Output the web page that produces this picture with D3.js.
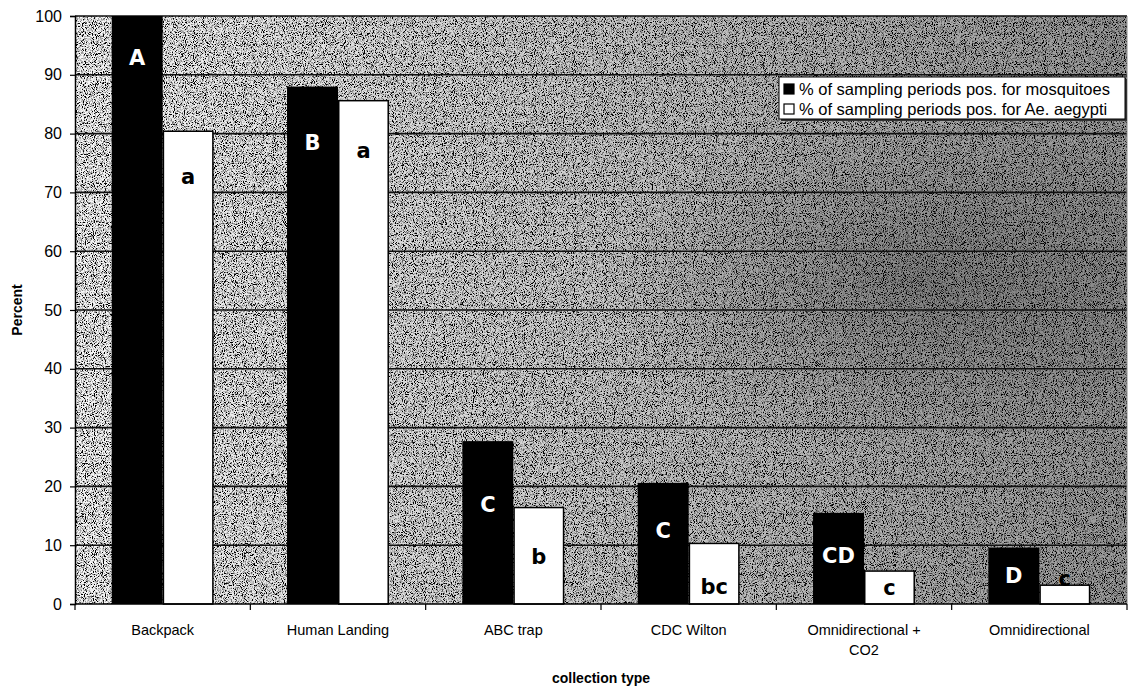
<!DOCTYPE html>
<html>
<head>
<meta charset="utf-8">
<script src="https://cdn.jsdelivr.net/npm/d3@7"></script>
<style>
  body { margin: 0; background: #fff; }
  svg { display: block; font-family: "Liberation Sans", Arial, sans-serif; }
</style>
</head>
<body>
<svg width="1136" height="688"></svg>
<script>
// chart data
const categories = ["Backpack", "Human Landing", "ABC trap", "CDC Wilton", "Omnidirectional + CO2", "Omnidirectional"];
const mosquitoPct = [100, 88, 27.7, 20.6, 15.5, 9.6];
const aegyptiPct = [80.4, 85.6, 16.4, 10.3, 5.6, 3.2];
const mosquitoLetters = ["A", "B", "C", "C", "CD", "D"];
const aegyptiLetters = ["a", "a", "b", "bc", "c", "c"];
// where the letters sit, in percent units
const mosquitoLetterAt = [92.9, 78.4, 16.8, 12.4, 8.2, 4.8];
const aegyptiLetterAt = [72.6, 77.0, 8.0, 2.9, 2.7, 4.3];
const yTicks = [0, 10, 20, 30, 40, 50, 60, 70, 80, 90, 100];
const seriesNames = ["% of sampling periods pos. for mosquitoes", "% of sampling periods pos. for Ae. aegypti"];

const svg = d3.select("svg");
const plotL = 75, plotR = 1127, plotT = 16, plotB = 604;

const x0 = d3.scaleBand().domain(categories).range([plotL, plotR]).padding(0);
const x1 = d3.scaleBand().domain(["m", "a"]).range([0, x0.bandwidth()]).paddingInner(0).paddingOuter(0.72);
const y = d3.scaleLinear().domain([0, 100]).range([plotB, plotT]);

// stippled grey background like the scanned original
const defs = svg.append("defs");
const f = defs.append("filter").attr("id", "stipple").attr("x", 0).attr("y", 0).attr("width", 1).attr("height", 1);
f.append("feTurbulence").attr("type", "fractalNoise").attr("baseFrequency", 1.1).attr("numOctaves", 1).attr("seed", 3).attr("result", "n");
f.append("feColorMatrix").attr("in", "n").attr("type", "matrix")
  .attr("values", "5 0 0 0 -1.8  5 0 0 0 -1.8  5 0 0 0 -1.8  0 0 0 0 1");

const grad = defs.append("linearGradient").attr("id", "shade");
grad.append("stop").attr("offset", "0%").attr("stop-color", "#000").attr("stop-opacity", 0.03);
grad.append("stop").attr("offset", "45%").attr("stop-color", "#000").attr("stop-opacity", 0.18);
grad.append("stop").attr("offset", "100%").attr("stop-color", "#000").attr("stop-opacity", 0.4);

const blob = defs.append("radialGradient").attr("id", "blob").attr("cx", 0.8).attr("cy", 0.45).attr("r", 0.3);
blob.append("stop").attr("offset", "0%").attr("stop-color", "#000").attr("stop-opacity", 0.25);
blob.append("stop").attr("offset", "100%").attr("stop-color", "#000").attr("stop-opacity", 0);

svg.append("rect").attr("x", plotL).attr("y", plotT).attr("width", plotR - plotL).attr("height", plotB - plotT)
  .attr("fill", "#999").attr("filter", "url(#stipple)");
svg.append("rect").attr("x", plotL).attr("y", plotT).attr("width", plotR - plotL).attr("height", plotB - plotT)
  .attr("fill", "url(#shade)");
svg.append("rect").attr("x", plotL).attr("y", plotT).attr("width", plotR - plotL).attr("height", plotB - plotT)
  .attr("fill", "url(#blob)");

// gridlines (incl. the top edge at 100)
svg.append("g").selectAll("line").data(yTicks.filter(d => d > 0)).join("line")
  .attr("x1", plotL).attr("x2", plotR)
  .attr("y1", d => y(d)).attr("y2", d => y(d))
  .attr("stroke", "#111").attr("stroke-width", 1.6);
svg.append("line").attr("x1", plotR).attr("x2", plotR).attr("y1", plotT).attr("y2", plotB)
  .attr("stroke", "#888").attr("stroke-width", 1);

// bars
const groups = svg.append("g").selectAll("g").data(categories).join("g")
  .attr("transform", d => `translate(${x0(d)},0)`);

groups.append("rect")
  .attr("x", x1("m")).attr("width", x1.bandwidth())
  .attr("y", (d, i) => y(mosquitoPct[i]))
  .attr("height", (d, i) => y(0) - y(mosquitoPct[i]))
  .attr("fill", "#000");

groups.append("rect")
  .attr("x", x1("a") + 0.75).attr("width", x1.bandwidth() - 1.5)
  .attr("y", (d, i) => y(aegyptiPct[i]))
  .attr("height", (d, i) => y(0) - y(aegyptiPct[i]))
  .attr("fill", "#fff").attr("stroke", "#000").attr("stroke-width", 1.5);

// significance letters
const letterStyle = sel => sel
  .attr("text-anchor", "middle").attr("dominant-baseline", "central")
  .attr("font-family", "'DejaVu Sans', sans-serif").attr("font-weight", "bold")
  .attr("font-size", 21);

groups.append("text").call(letterStyle)
  .attr("x", x1("m") + x1.bandwidth() / 2)
  .attr("y", (d, i) => y(mosquitoLetterAt[i]))
  .attr("fill", "#fff")
  .text((d, i) => mosquitoLetters[i]);

groups.append("text").call(letterStyle)
  .attr("x", x1("a") + x1.bandwidth() / 2)
  .attr("y", (d, i) => y(aegyptiLetterAt[i]))
  .attr("fill", "#000")
  .text((d, i) => aegyptiLetters[i]);

// y axis
const yAxis = svg.append("g").attr("transform", `translate(${plotL},0)`)
  .call(d3.axisLeft(y).tickValues(yTicks).tickSize(5).tickPadding(8));
yAxis.select(".domain").attr("stroke", "#000").attr("stroke-width", 1.5);
yAxis.selectAll(".tick line").attr("stroke", "#000").attr("stroke-width", 1.2);
yAxis.selectAll(".tick text").attr("font-size", 16).attr("font-family", "'Liberation Sans', Arial, sans-serif").attr("fill", "#000");

// x axis
svg.append("line").attr("x1", plotL).attr("x2", plotR).attr("y1", plotB).attr("y2", plotB)
  .attr("stroke", "#000").attr("stroke-width", 1.5);
const bounds = categories.map(c => x0(c)).concat([plotR]);
svg.append("g").selectAll("line").data(bounds).join("line")
  .attr("x1", d => d).attr("x2", d => d).attr("y1", plotB).attr("y2", plotB + 6)
  .attr("stroke", "#000").attr("stroke-width", 1.2);

const catLabels = svg.append("g").selectAll("text").data(categories).join("text")
  .attr("x", d => x0(d) + x0.bandwidth() / 2)
  .attr("y", 635)
  .attr("text-anchor", "middle").attr("font-size", 14.5).attr("fill", "#000");
catLabels.each(function (d) {
  const lines = d.length > 18 ? [d.slice(0, d.lastIndexOf(" ")), d.slice(d.lastIndexOf(" ") + 1)] : [d];
  d3.select(this).selectAll("tspan").data(lines).join("tspan")
    .attr("x", x0(d) + x0.bandwidth() / 2)
    .attr("dy", (l, i) => i === 0 ? 0 : 20)
    .text(l => l);
});

svg.append("text").attr("x", (plotL + plotR) / 2).attr("y", 683)
  .attr("text-anchor", "middle").attr("font-size", 14).attr("font-weight", "bold").text("collection type");

svg.append("text").attr("transform", "translate(22,310) rotate(-90)")
  .attr("text-anchor", "middle").attr("font-size", 14).attr("font-weight", "bold").text("Percent");

// legend
const lg = svg.append("g").attr("transform", "translate(779,77)");
lg.append("rect").attr("x", 2).attr("y", 2).attr("width", 346).attr("height", 42).attr("fill", "#333");
lg.append("rect").attr("width", 346).attr("height", 42).attr("fill", "#fff").attr("stroke", "#000").attr("stroke-width", 1);
const rows = lg.selectAll("g.row").data(seriesNames).join("g").attr("class", "row")
  .attr("transform", (d, i) => `translate(5,${12 + i * 20})`);
rows.append("rect").attr("x", 0).attr("y", -5).attr("width", 10).attr("height", 10)
  .attr("fill", (d, i) => i === 0 ? "#000" : "#fff").attr("stroke", "#000").attr("stroke-width", 1.2);
rows.append("text").attr("x", 15).attr("y", 0).attr("dominant-baseline", "central")
  .attr("font-size", 16.5).attr("fill", "#000").text(d => d);
</script>
</body>
</html>
